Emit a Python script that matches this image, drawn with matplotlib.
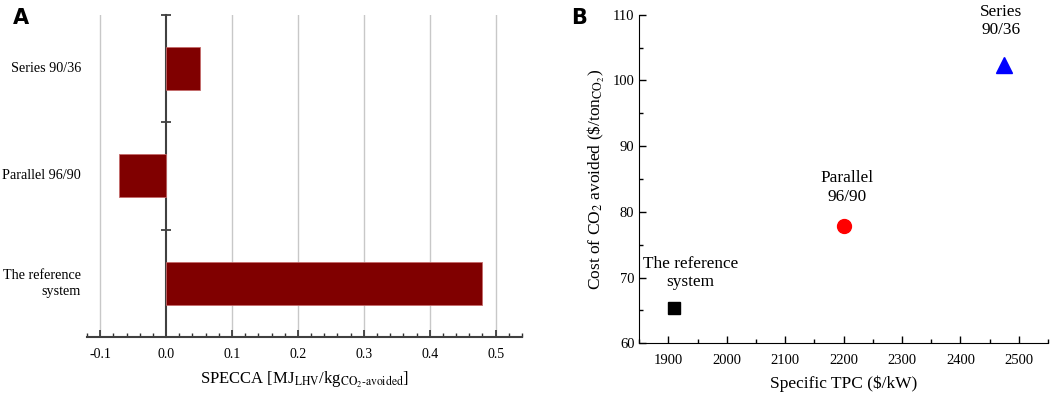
import numpy as np
import matplotlib
matplotlib.use('Agg')
import matplotlib.pyplot as plt
from matplotlib.ticker import MultipleLocator
import matplotlib.transforms as mtransforms

plt.rcParams['font.family'] = ['Liberation Serif', 'DejaVu Serif']
plt.rcParams['mathtext.fontset'] = 'stix'

# panel A data
systems = ['The reference\nsystem', 'Parallel 96/90', 'Series 90/36']
specca = [0.48, -0.072, 0.052]

# panel B data
tpc = [1910, 2200, 2475]
cost = [65.3, 77.9, 102.3]
pt_labels = ['The reference\nsystem', 'Parallel\n96/90', 'Series\n90/36']
pt_markers = ['s', 'o', '^']
pt_colors = ['black', 'red', 'blue']
pt_sizes = [8.5, 10, 11]
label_offsets = [(16, 18), (3, 21), (-3, 27)]

fig = plt.figure(figsize=(10.52, 3.95), dpi=100)

# ---- panel A
axA = fig.add_axes([0.0827, 0.1468, 0.4135, 0.816])
ypos = np.arange(len(systems))
axA.barh(ypos, specca, height=0.4, color='#800000', edgecolor='#c46a6a', linewidth=0.6, zorder=3)
axA.set_xlim(-0.12, 0.54)
axA.set_ylim(-0.5, 2.5)
axA.xaxis.set_minor_locator(MultipleLocator(0.02))
xt = np.arange(-0.1, 0.51, 0.1)
axA.set_xticks(xt)
axA.set_xticklabels(['%.1f' % v for v in xt])
for v in xt:
    if abs(v) > 1e-9:
        axA.axvline(v, color='#c8c8c8', lw=1.0, zorder=0)
axA.spines['left'].set_position(('data', 0))
axA.spines['top'].set_visible(False)
axA.spines['right'].set_visible(False)
for s in ['left', 'bottom']:
    axA.spines[s].set_color('#404040')
    axA.spines[s].set_linewidth(1.5)
axA.set_yticks([-0.5, 0.5, 1.5, 2.5])
axA.set_yticklabels([])
axA.tick_params(axis='y', direction='inout', length=7, width=1.2, color='#303030')
axA.tick_params(axis='x', which='major', direction='in', length=5, width=1.2, color='#303030',
                labelsize=10, pad=8)
axA.tick_params(axis='x', which='minor', direction='in', length=3, width=1.0, color='#303030')
trA = mtransforms.blended_transform_factory(axA.transAxes, axA.transData)
for y, lab in zip(ypos, systems):
    axA.text(-0.014, y, lab, transform=trA, ha='right', va='center', fontsize=10.2,
             multialignment='right', linespacing=1.3)
axA.set_xlabel(r'SPECCA [MJ$_{\mathrm{LHV}}$/kg$_{\mathrm{CO_2\text{-}avoided}}$]', fontsize=12, labelpad=6)
fig.text(0.012, 0.94, 'A', fontsize=15, fontweight='bold', family='DejaVu Sans')

# ---- panel B
axB = fig.add_axes([0.6077, 0.1309, 0.3885, 0.832])
for x, y, lab, m, c, ms, off in zip(tpc, cost, pt_labels, pt_markers, pt_colors, pt_sizes, label_offsets):
    axB.plot(x, y, marker=m, color=c, markersize=ms, linestyle='none')
    axB.annotate(lab, (x, y), xytext=off, textcoords='offset pixels', ha='center', va='bottom',
                 fontsize=12.4, multialignment='center', annotation_clip=False)
axB.set_xlim(1850, 2550)
axB.set_ylim(60, 110)
axB.xaxis.set_major_locator(MultipleLocator(100))
axB.xaxis.set_minor_locator(MultipleLocator(50))
axB.yaxis.set_major_locator(MultipleLocator(10))
axB.yaxis.set_minor_locator(MultipleLocator(5))
axB.spines['top'].set_visible(False)
axB.spines['right'].set_visible(False)
axB.tick_params(which='major', direction='in', length=5, width=1.0, labelsize=10.5)
axB.tick_params(which='minor', direction='in', length=3, width=1.0)
axB.tick_params(axis='x', pad=8)
axB.set_xlabel('Specific TPC ($/kW)', fontsize=12.5, labelpad=6)
axB.set_ylabel(r'Cost of CO$_2$ avoided (\$/ton$_{\mathrm{CO_2}}$)', fontsize=12.5, labelpad=4)
fig.text(0.543, 0.94, 'B', fontsize=15, fontweight='bold', family='DejaVu Sans')

fig.savefig('out.png', dpi=100)
